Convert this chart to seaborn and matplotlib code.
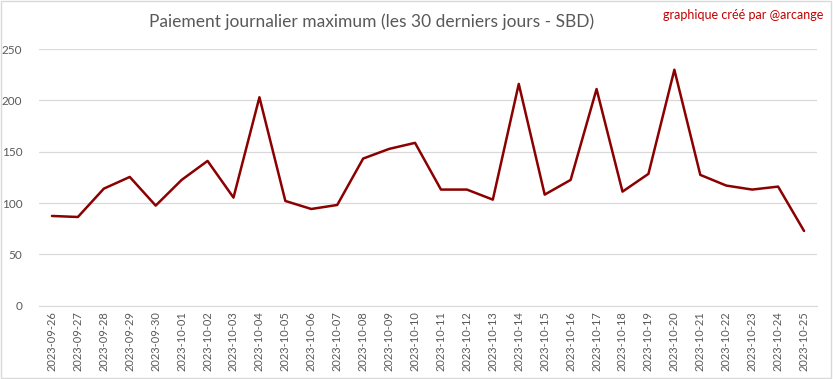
import pandas as pd
import matplotlib.pyplot as plt
import seaborn as sns
from matplotlib.patches import Rectangle

# Data
dates = ['2023-09-26', '2023-09-27', '2023-09-28', '2023-09-29', '2023-09-30',
         '2023-10-01', '2023-10-02', '2023-10-03', '2023-10-04', '2023-10-05',
         '2023-10-06', '2023-10-07', '2023-10-08', '2023-10-09', '2023-10-10',
         '2023-10-11', '2023-10-12', '2023-10-13', '2023-10-14', '2023-10-15',
         '2023-10-16', '2023-10-17', '2023-10-18', '2023-10-19', '2023-10-20',
         '2023-10-21', '2023-10-22', '2023-10-23', '2023-10-24', '2023-10-25']
max_payout = [87.4, 86.4, 114, 125.4, 97.5,
              122.5, 141, 105.3, 203, 102,
              94.2, 98.1, 143.3, 152.7, 158.6,
              113.1, 113.1, 103.3, 216, 108.2,
              122.5, 211, 111.1, 128.4, 229.8,
              127.4, 117, 113.1, 116, 72.8]
y_ticks = [0, 50, 100, 150, 200, 250]

df = pd.DataFrame({'date': dates, 'payout': max_payout})
df['pos'] = range(len(df))

sns.set_style('white')
plt.rcParams['font.family'] = ['Lato', 'DejaVu Sans']

fig = plt.figure(figsize=(8.33, 3.79), dpi=100)
ax = fig.add_axes([0.0468, 0.1934, 0.934, 0.6773])

sns.lineplot(data=df, x='pos', y='payout', color='#8b0000', linewidth=1.8, ax=ax)

ax.set_xlim(-0.5, len(dates) - 0.5)
ax.set_ylim(0, 250)
ax.set_yticks(y_ticks)
ax.set_xticks(df['pos'])
ax.set_xticklabels(dates, rotation=90, fontsize=8, color='#595959')
ax.tick_params(axis='y', labelsize=8.5, colors='#595959', length=0, pad=12)
ax.tick_params(axis='x', length=0, pad=4)
ax.yaxis.grid(True, color='#d9d9d9', linewidth=0.9)
ax.set_axisbelow(True)
for s in ['top', 'right', 'left']:
    ax.spines[s].set_visible(False)
ax.spines['bottom'].set_color('#d9d9d9')
ax.set_xlabel('')
ax.set_ylabel('')

fig.text(0.446, 0.942, 'Paiement journalier maximum (les 30 derniers jours - SBD)',
         ha='center', va='center', fontsize=12.5, color='#595959')
fig.text(0.988, 0.96, 'graphique créé par @arcange', ha='right', va='center',
         fontsize=9, color='#c00000')

fig.patches.append(Rectangle((0.001, 0.002), 0.997, 0.995, transform=fig.transFigure,
                             fill=False, edgecolor='#d9d9d9', linewidth=1))

plt.savefig('out.png', dpi=100)
plt.close()
